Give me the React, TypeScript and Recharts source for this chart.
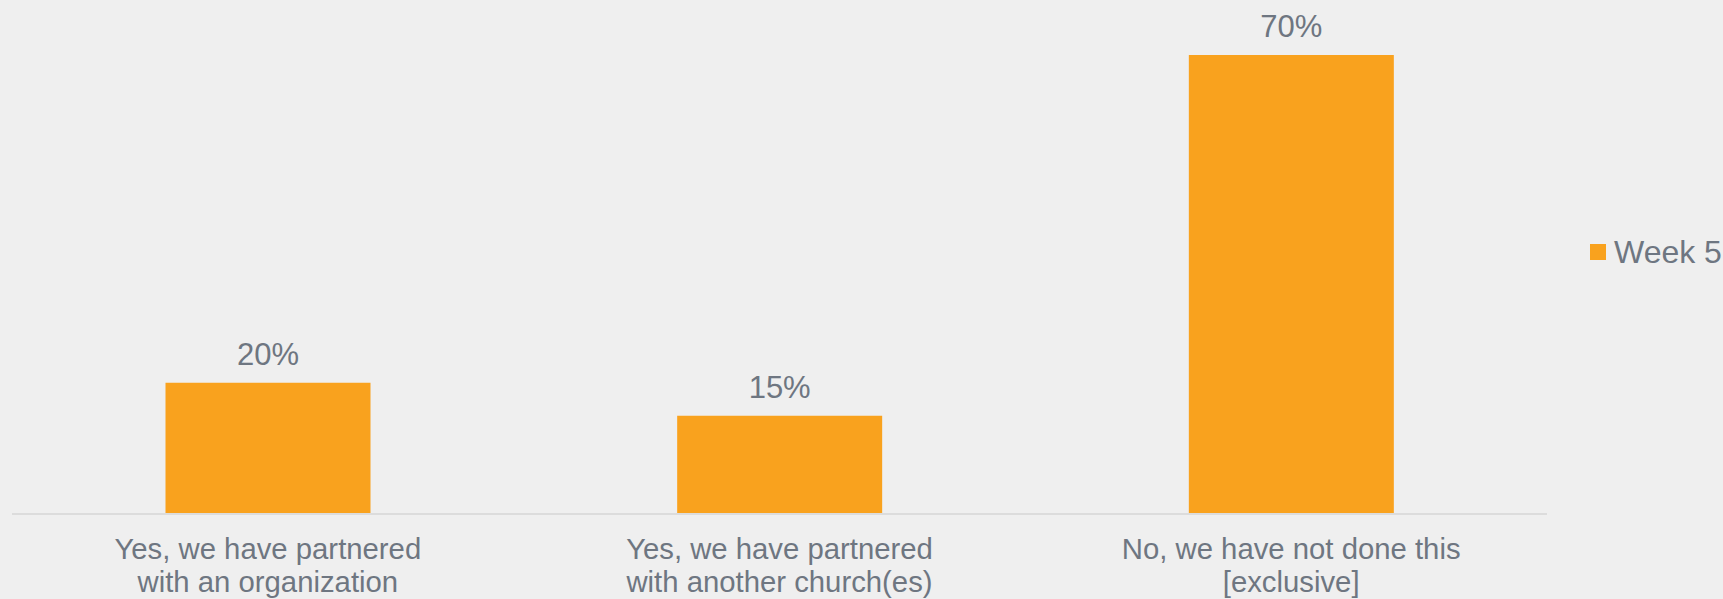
import { BarChart, Bar, XAxis, YAxis, Legend, LabelList } from "recharts";

const categories = [
  "Yes, we have partnered with an organization",
  "Yes, we have partnered with another church(es)",
  "No, we have not done this [exclusive]",
];
const categoryLines = [
  ["Yes, we have partnered", "with an organization"],
  ["Yes, we have partnered", "with another church(es)"],
  ["No, we have not done this", "[exclusive]"],
];
const week5 = [20, 15, 70];
const seriesName = "Week 5";

const BAR = "#F9A21E";
const TEXT = "#6E7681";
const FONT = "Arial, 'Liberation Sans', sans-serif";

const data = categories.map((name, i) => ({ name, lines: categoryLines[i], value: week5[i] }));

function CategoryTick(props: any) {
  const { x, y, index } = props;
  const lines = categoryLines[index] || [];
  return (
    <text x={x} y={y} textAnchor="middle" fill={TEXT} fontSize={29.3} fontFamily={FONT}>
      {lines.map((l, i) => (
        <tspan key={i} x={x} dy={i === 0 ? 44.5 : 33.7}>
          {l}
        </tspan>
      ))}
    </text>
  );
}

function LegendBox() {
  return (
    <div style={{ display: "flex", alignItems: "center", height: 36, fontFamily: FONT, fontSize: 32, lineHeight: "36px", color: TEXT, whiteSpace: "nowrap" }}>
      <span style={{ width: 16, height: 16, background: BAR, marginRight: 8, display: "inline-block" }} />
      <span>{seriesName}</span>
    </div>
  );
}

export default function App() {
  return (
    <div style={{ width: 1723, height: 599, background: "#EFEFEF", overflow: "hidden", position: "relative" }}>
      <style>{"body{margin:0}"}</style>
      <BarChart
        width={1723}
        height={599}
        data={data}
        margin={{ top: 55, right: 176, left: 12, bottom: 0 }}
        barCategoryGap="30%"
      >
        <XAxis
          dataKey="name"
          height={85}
          interval={0}
          tickLine={false}
          tickSize={0}
          tickMargin={0}
          axisLine={{ stroke: "#DCDCDC", strokeWidth: 2 }}
          tick={<CategoryTick />}
        />
        <YAxis hide domain={[0, 70]} />
        <Legend
          layout="horizontal"
          verticalAlign="middle"
          align="center"
          content={<LegendBox />}
          wrapperStyle={{ left: 1590, top: 234, width: "auto" }}
        />
        <Bar dataKey="value" name={seriesName} fill={BAR} isAnimationActive={false}>
          <LabelList
            dataKey="value"
            position="top"
            offset={18}
            formatter={(v: any) => `${v}%`}
            fill={TEXT}
            fontSize={31}
            fontFamily={FONT}
          />
        </Bar>
      </BarChart>
    </div>
  );
}
